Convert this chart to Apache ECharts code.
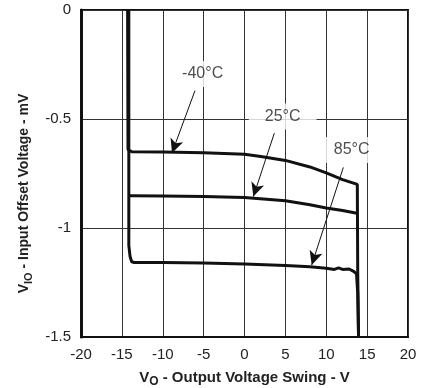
<!DOCTYPE html>
<html>
<head>
<meta charset="utf-8">
<script src="https://cdn.jsdelivr.net/npm/echarts@6/dist/echarts.min.js"></script>
<style>
  html, body { margin: 0; padding: 0; background: #fff; }
  #main { width: 432px; height: 388px; }
</style>
</head>
<body>
<div id="main"></div>
<script>
// curves (V, mV)
const t40X = [-14.3, -14.25, -13.8, -10, -5, 0, 2, 5, 8, 10, 12, 13.8, 13.85, 13.95];
const t40Y = [0, -0.64, -0.65, -0.651, -0.655, -0.662, -0.672, -0.69, -0.72, -0.747, -0.778, -0.80, -1.2, -1.5];

const t25X = [-14.2, -13.8, -10, -5, 0, 5, 8, 10, 12, 13.75];
const t25Y = [-0.852, -0.852, -0.853, -0.856, -0.86, -0.875, -0.893, -0.908, -0.92, -0.932];

const t85X = [-14.15, -14.15, -14.0, -13.8, -13.5, -10, -5, 0, 5, 8, 10, 11, 11.5, 12, 12.8, 13.4, 13.7, 13.85, 13.95];
const t85Y = [0, -1.08, -1.13, -1.155, -1.158, -1.158, -1.16, -1.165, -1.172, -1.178, -1.185, -1.19, -1.183, -1.19, -1.188, -1.2, -1.21, -1.3, -1.5];

// annotation labels and arrows, same order as the curves
const labelText = ['-40°C', '25°C', '85°C'];
const labelX = [-5.12, 4.67, 13.11];
const labelY = [-0.294, -0.489, -0.642];
const arrowFromX = [-6.06, 3.65, 12.09];
const arrowFromY = [-0.37, -0.565, -0.722];
const arrowToX = [-8.87, 1.08, 8.22];
const arrowToY = [-0.656, -0.856, -1.17];

const xTicks = [-20, 20, 5];
const yTicks = [-1.5, 0, 0.5];

const font = 'Liberation Sans, Arial, Helvetica, sans-serif';

function pairs(xs, ys) {
  return xs.map((x, i) => [x, ys[i]]);
}

function curve(i, xs, ys) {
  return {
    name: labelText[i],
    type: 'line',
    data: pairs(xs, ys),
    symbol: 'none',
    lineStyle: { color: '#111', width: 3 },
    silent: true,
    z: 3,
    markLine: {
      silent: true,
      symbol: ['none', 'arrow'],
      symbolSize: [10, 14],
      label: { show: false },
      lineStyle: { color: '#111', width: 1, type: 'solid' },
      itemStyle: { color: '#111' },
      emphasis: { disabled: true },
      data: [[
        { coord: [arrowFromX[i], arrowFromY[i]] },
        { coord: [arrowToX[i], arrowToY[i]] }
      ]]
    }
  };
}

function nameRich(size, sub) {
  return {
    v: { fontFamily: font, fontSize: size, fontWeight: 'bold', color: '#222' },
    s: { fontFamily: font, fontSize: sub, fontWeight: 'bold', color: '#222', padding: [9, 0, 0, 0] },
    n: { fontFamily: font, fontSize: size, fontWeight: 'bold', color: '#222' }
  };
}

const chart = echarts.init(document.getElementById('main'));
chart.setOption({
  animation: false,
  backgroundColor: '#fff',
  grid: {
    left: 81, right: 24, top: 10, bottom: 51,
    outerBoundsMode: 'none',
    containLabel: false,
    show: true, borderColor: '#111', borderWidth: 2
  },
  xAxis: {
    type: 'value',
    min: xTicks[0], max: xTicks[1], interval: xTicks[2],
    name: '{v|V}{s|O}{n| - Output Voltage Swing - V}',
    nameLocation: 'middle',
    nameGap: 30,
    nameTextStyle: { rich: nameRich(15, 12) },
    axisLine: { show: true, onZero: false, lineStyle: { color: '#111', width: 2 } },
    axisTick: { show: false },
    axisLabel: { fontFamily: font, fontSize: 15, color: '#222', margin: 10 },
    splitLine: { show: true, lineStyle: { color: '#333', width: 1 } }
  },
  yAxis: {
    type: 'value',
    min: yTicks[0], max: yTicks[1], interval: yTicks[2],
    name: '{v|V}{s|IO}{n| - Input Offset Voltage - mV}',
    nameLocation: 'middle',
    nameGap: 46,
    nameTextStyle: { rich: nameRich(14, 11), padding: [0, 40, 0, 0] },
    axisLine: { show: true, onZero: false, lineStyle: { color: '#111', width: 3 } },
    axisTick: { show: false },
    axisLabel: { fontFamily: font, fontSize: 15, color: '#222', margin: 10 },
    splitLine: { show: true, lineStyle: { color: '#333', width: 1 } }
  },
  series: [
    curve(0, t40X, t40Y),
    curve(1, t25X, t25Y),
    curve(2, t85X, t85Y),
    {
      name: 'labels',
      type: 'scatter',
      symbolSize: 1,
      itemStyle: { color: 'rgba(0,0,0,0)' },
      silent: true,
      z: 5,
      data: labelText.map((t, i) => ({ value: [labelX[i], labelY[i]], name: t })),
      label: {
        show: true,
        position: 'inside',
        formatter: p => p.name,
        fontFamily: font,
        fontSize: 16,
        color: '#222',
        backgroundColor: '#fff',
        padding: [5, 16]
      }
    }
  ]
});
</script>
</body>
</html>
